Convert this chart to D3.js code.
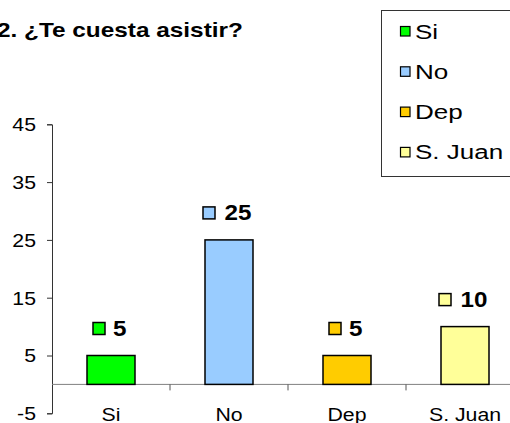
<!DOCTYPE html>
<html>
<head>
<meta charset="utf-8">
<script src="https://cdn.jsdelivr.net/npm/d3@7"></script>
<style>
body { margin: 0; background: #fff; }
svg { display: block; font-family: Arial, "Liberation Sans", sans-serif; }
</style>
</head>
<body>
<script>
// data
var categories = ["Si", "No", "Dep", "S. Juan"];
var values = [5, 25, 5, 10];
var colors = ["#00ff00", "#99ccff", "#ffcc00", "#ffff99"];
var yTicks = [-5, 5, 15, 25, 35, 45];
var title = "2. ¿Te cuesta asistir?";

var width = 510, height = 423;
var sx = 1.15;//the original chart is stretched sideways, so is its text

var svg = d3.select("body").append("svg")
    .attr("width", width)
    .attr("height", height);

var yScale = d3.scaleLinear().domain([-5, 45]).range([413.3, 124.3]);//value to pixel
var xScale = d3.scaleBand().domain(categories).range([52, 524]);//one band per category
var barW = 48;

function stretched(x, y, k) {//transform for a text drawn at x,y and widened by k
    return "translate(" + x + "," + y + ") scale(" + k + ",1)";
}

// title
svg.append("text")
    .attr("transform", stretched(-3, 37, 1.16))
    .attr("font-size", 21)
    .attr("font-weight", "bold")
    .text(title);

// y axis
var yAxis = d3.axisLeft(yScale)
    .tickValues(yTicks)
    .tickSize(5)
    .tickFormat(function (d) { return String(d); });//plain hyphen for -5
var gy = svg.append("g")
    .attr("transform", "translate(52,0)")
    .call(yAxis);
gy.select(".domain").attr("stroke", "#333");
gy.selectAll(".tick line").attr("stroke", "#333");
gy.selectAll("text")
    .attr("x", 0)
    .attr("dy", "0.35em")
    .attr("transform", stretched(-16, 0, sx))
    .attr("font-size", 18.5)
    .attr("fill", "#000")
    .attr("font-family", "Arial, 'Liberation Sans', sans-serif");

// zero line with category ticks
svg.append("line")
    .attr("x1", 52).attr("x2", 524)
    .attr("y1", yScale(0)).attr("y2", yScale(0))
    .attr("stroke", "#808080");
svg.selectAll(".ctick")
    .data(categories.slice(1))
    .enter().append("line")
    .attr("x1", function (d) { return xScale(d); })
    .attr("x2", function (d) { return xScale(d); })
    .attr("y1", yScale(0)).attr("y2", yScale(0) + 6)
    .attr("stroke", "#555");

// category labels
svg.selectAll(".clabel")
    .data(categories)
    .enter().append("text")
    .attr("transform", function (d) { return stretched(xScale(d) + xScale.bandwidth() / 2, 421, sx); })
    .attr("text-anchor", "middle")
    .attr("font-size", 18.5)
    .text(function (d) { return d; });

// bars
svg.selectAll(".bar")
    .data(values)
    .enter().append("rect")
    .attr("x", function (d, i) { return xScale(categories[i]) + xScale.bandwidth() / 2 - barW / 2; })
    .attr("y", function (d) { return yScale(d); })
    .attr("width", barW)
    .attr("height", function (d) { return yScale(0) - yScale(d); })
    .attr("fill", function (d, i) { return colors[i]; })
    .attr("stroke", "#000")
    .attr("stroke-width", 1.5);

// data labels: small key + bold value
var lab = svg.selectAll(".lab")
    .data(values)
    .enter().append("g")
    .attr("transform", function (d, i) {
        return "translate(" + (xScale(categories[i]) + xScale.bandwidth() / 2) + "," + (yScale(d) - 20) + ")";
    });
lab.append("rect")
    .attr("x", function (d) { return d >= 10 ? -26 : -18; })
    .attr("y", -13)
    .attr("width", 12).attr("height", 12)
    .attr("fill", function (d, i) { return colors[i]; })
    .attr("stroke", "#000").attr("stroke-width", 1.5);
lab.append("text")
    .attr("transform", function (d) { return stretched(d >= 10 ? -4.5 : 2, 0, 1.1); })
    .attr("font-size", 22)
    .attr("font-weight", "bold")
    .text(function (d) { return d; });

// legend
svg.append("rect")
    .attr("x", 381.5).attr("y", 10.5)
    .attr("width", 140).attr("height", 166)
    .attr("fill", "#fff")
    .attr("stroke", "#333");
var leg = svg.selectAll(".leg")
    .data(categories)
    .enter().append("g")
    .attr("transform", function (d, i) { return "translate(400," + (31 + i * 40.3) + ")"; });
leg.append("rect")
    .attr("x", 0.5).attr("y", -4.5)
    .attr("width", 9.5).attr("height", 9.5)
    .attr("fill", function (d, i) { return colors[i]; })
    .attr("stroke", "#000").attr("stroke-width", 1.2);
leg.append("text")
    .attr("transform", stretched(15, 7.5, 1.24))
    .attr("font-size", 21)
    .text(function (d) { return d; });
</script>
</body>
</html>
